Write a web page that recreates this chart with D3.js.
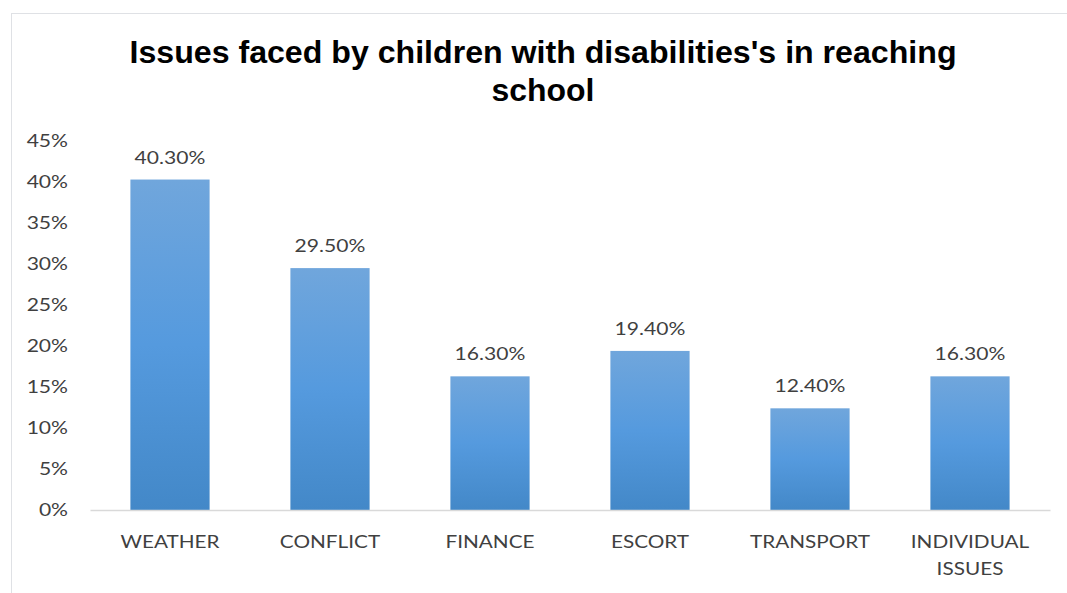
<!DOCTYPE html>
<html>
<head>
<meta charset="utf-8">
<style>
  body { margin: 0; background: #fff; }
  .tick text { font-family: Lato, "Open Sans", sans-serif; fill: #404040; }
</style>
<script src="https://d3js.org/d3.v7.min.js"></script>
</head>
<body>
<svg width="1067" height="593"></svg>
<script>
var categories = ["WEATHER", "CONFLICT", "FINANCE", "ESCORT", "TRANSPORT", "INDIVIDUAL ISSUES"];
var values = [40.3, 29.5, 16.3, 19.4, 12.4, 16.3];
var yTicks = [0, 5, 10, 15, 20, 25, 30, 35, 40, 45];
var titleLines = ["Issues faced by children with disabilities's in reaching", "school"];

var svg = d3.select("svg");
var margin = {left: 90, right: 17, top: 141, bottom: 83};
var width = 1067 - margin.left - margin.right,
    height = 593 - margin.top - margin.bottom;

// the source picture is stretched sideways a bit, so widen text to fit
function stretch(sel, k) {
  sel.each(function() {
    var w = this.getComputedTextLength();
    d3.select(this).attr("textLength", w * k).attr("lengthAdjust", "spacingAndGlyphs");
  });
}

// chart frame
svg.append("rect")
  .attr("x", 11.5).attr("y", 13.5)
  .attr("width", 1080).attr("height", 600)
  .attr("fill", "none").attr("stroke", "#dfe1e5");

var grad = svg.append("defs").append("linearGradient")
  .attr("id", "barGrad").attr("x1", 0).attr("y1", 0).attr("x2", 0).attr("y2", 1);
grad.append("stop").attr("offset", "0%").attr("stop-color", "#70a6dc");
grad.append("stop").attr("offset", "50%").attr("stop-color", "#559ade");
grad.append("stop").attr("offset", "100%").attr("stop-color", "#4388c8");

// title
var title = svg.append("g");
titleLines.forEach(function(t, i) {
  title.append("text")
    .attr("x", 543).attr("y", 63 + i * 38)
    .attr("text-anchor", "middle")
    .attr("font-family", "'Liberation Sans', Arial, sans-serif")
    .attr("font-weight", "bold")
    .attr("font-size", 32)
    .attr("fill", "#000")
    .text(t);
});
// squeeze line widths to match the narrow title face
title.selectAll("text").each(function(d, i) {
  var target = i == 0 ? 827 : 103;
  d3.select(this).attr("textLength", target).attr("lengthAdjust", "spacingAndGlyphs");
});

var g = svg.append("g").attr("transform", "translate(" + margin.left + "," + margin.top + ")");

var x = d3.scaleBand().domain(categories).range([0, width]).paddingInner(0.505).paddingOuter(0.2525);
var y = d3.scaleLinear().domain([0, 45]).range([height, 0]);

// y axis
var yAxis = g.append("g")
  .call(d3.axisLeft(y).tickValues(yTicks).tickSize(0).tickPadding(22).tickFormat(function(d) { return d + "%"; }));
yAxis.select(".domain").remove();
yAxis.selectAll("text").attr("font-size", 17).call(stretch, 1.24);

// bars
g.selectAll(".bar")
  .data(values)
  .enter().append("rect")
  .attr("class", "bar")
  .attr("x", function(d, i) { return x(categories[i]); })
  .attr("y", function(d) { return y(d); })
  .attr("width", x.bandwidth())
  .attr("height", function(d) { return height - y(d); })
  .attr("fill", "url(#barGrad)");

// data labels
g.selectAll(".lbl")
  .data(values)
  .enter().append("text")
  .attr("class", "lbl")
  .attr("x", function(d, i) { return x(categories[i]) + x.bandwidth() / 2; })
  .attr("y", function(d) { return y(d) - 16; })
  .attr("text-anchor", "middle")
  .attr("font-family", "Lato, 'Open Sans', sans-serif")
  .attr("font-size", 17)
  .attr("fill", "#404040")
  .text(function(d) { return d.toFixed(2) + "%"; })
  .call(stretch, 1.24);

// x axis
var xAxis = g.append("g").attr("transform", "translate(0," + height + ")")
  .call(d3.axisBottom(x).tickSize(0).tickPadding(0));
xAxis.select(".domain").attr("stroke", "#d9d9d9").attr("stroke-width", 1.5);
xAxis.selectAll("text").remove();
xAxis.selectAll(".tick").each(function(d) {
  var t = d3.select(this).append("text")
    .attr("font-size", 17)
    .attr("fill", "#404040");
  d.split(" ").forEach(function(w, i) {
    t.append("tspan").attr("x", 0).attr("y", 38 + i * 27).attr("text-anchor", "middle").text(w);
  });
});
xAxis.selectAll(".tick tspan").call(stretch, 1.22);
</script>
</body>
</html>
